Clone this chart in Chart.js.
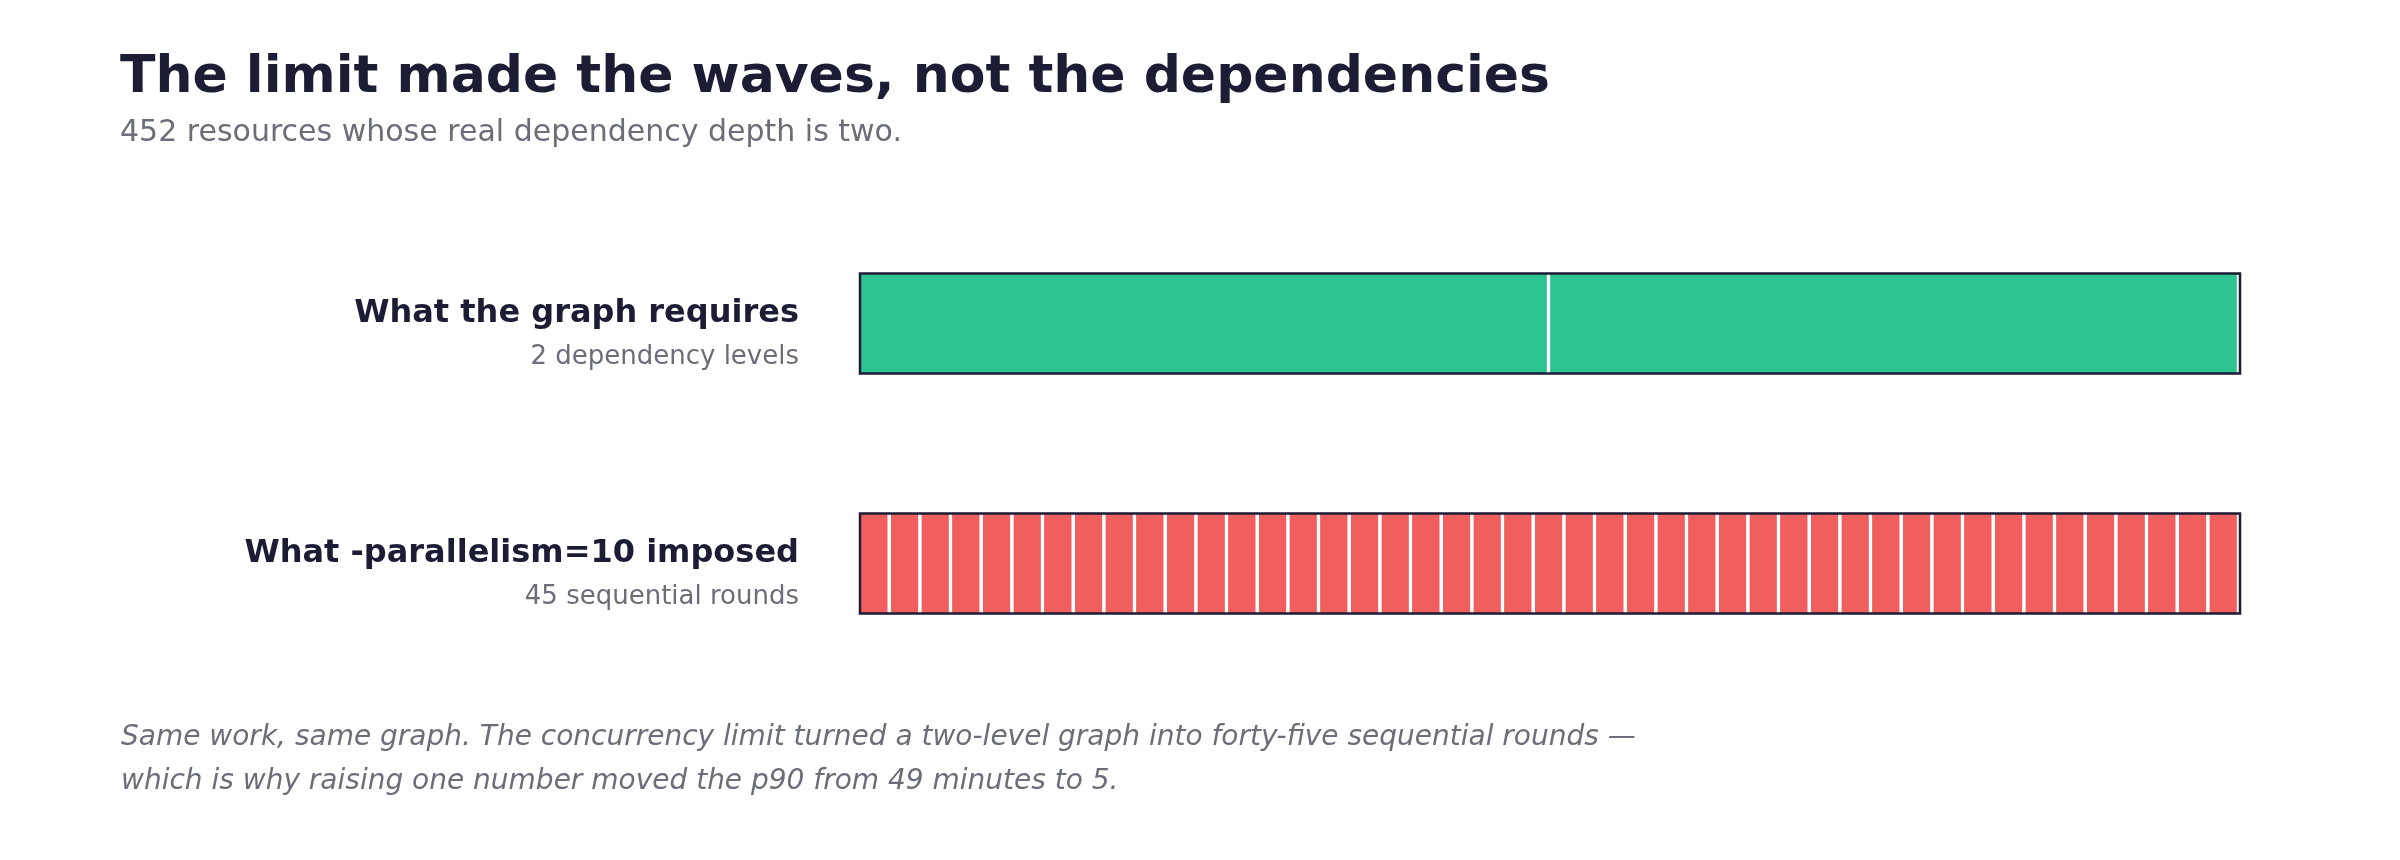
<!DOCTYPE html>
<html>
<head>
<meta charset="utf-8">
<title>The limit made the waves, not the dependencies</title>
<script src="https://cdn.jsdelivr.net/npm/chart.js@4.4.1/dist/chart.umd.min.js"></script>
<style>
    html, body {
        margin: 0;
        padding: 0;
        background: #ffffff;
    }
    body {
        width: 2400px;
        height: 860px;
        position: relative;
        overflow: hidden;
        font-family: "DejaVu Sans", sans-serif;
    }
    #chartWrap {
        position: absolute;
        left: 0;
        top: 0;
        width: 2400px;
        height: 860px;
    }
    .title {
        position: absolute;
        left: 120px;
        top: 48px;
        font-size: 52px;
        line-height: 52px;
        font-weight: bold;
        color: #1c1d35;
        white-space: nowrap;
    }
    .subtitle {
        position: absolute;
        left: 120px;
        top: 116px;
        font-size: 30px;
        line-height: 30px;
        color: #6b6e78;
        white-space: nowrap;
    }
    .note {
        position: absolute;
        left: 121px;
        top: 714px;
        font-size: 28px;
        line-height: 44px;
        font-style: italic;
        color: #6b6e78;
        white-space: nowrap;
    }
</style>
</head>
<body>
<div id="chartWrap"><canvas id="waveChart"></canvas></div>
<div class="title">The limit made the waves, not the dependencies</div>
<div class="subtitle">452 resources whose real dependency depth is two.</div>
<div class="note">Same work, same graph. The concurrency limit turned a two-level graph into forty-five sequential rounds —<br>which is why raising one number moved the p90 from 49 minutes to 5.</div>

<script>
// rows of the chart
const rowLabels = ['What the graph requires', 'What -parallelism=10 imposed'];
const rowNotes = ['2 dependency levels', '45 sequential rounds'];
const segmentCounts = [2, 45];
const rowColors = ['#2ec492', '#f05e5e'];

const maxSegments = Math.max(...segmentCounts);

// one dataset per segment slot; each row is split into equal parts of its own total
const datasets = [];
for (let i = 0; i < maxSegments; i++) {
    datasets.push({
        data: segmentCounts.map(count => (i < count ? 1 / count : null)),
        backgroundColor: rowColors,
        borderColor: '#ffffff',
        borderWidth: { top: 0, bottom: 0, left: 0, right: 3.5 },
        borderSkipped: false,
        barThickness: 100
    });
}

// dark outline round each whole row + the row labels on the left
const rowDecor = {
    id: 'rowDecor',
    afterDatasetsDraw(chart) {
        const ctx = chart.ctx;
        const x = chart.scales.x;
        const y = chart.scales.y;
        const left = x.getPixelForValue(0);
        const right = x.getPixelForValue(1);

        ctx.save();
        rowLabels.forEach((label, i) => {
            const yc = y.getPixelForValue(i);

            ctx.strokeStyle = '#1c1d35';
            ctx.lineWidth = 2.5;
            ctx.strokeRect(left, yc - 50, right - left, 100);

            ctx.textAlign = 'right';
            ctx.textBaseline = 'alphabetic';
            ctx.fillStyle = '#1c1d35';
            ctx.font = 'bold 32px "DejaVu Sans"';
            ctx.fillText(label, left - 61, yc - 2);

            ctx.fillStyle = '#6b6e78';
            ctx.font = '26px "DejaVu Sans"';
            ctx.fillText(rowNotes[i], left - 61, yc + 40);
        });
        ctx.restore();
    }
};

new Chart(document.getElementById('waveChart').getContext('2d'), {
    type: 'bar',
    data: {
        labels: rowLabels,
        datasets: datasets
    },
    options: {
        indexAxis: 'y',
        responsive: true,
        maintainAspectRatio: false,
        animation: false,
        layout: {
            padding: { left: 860, right: 160, top: 203.5, bottom: 176.5 }
        },
        scales: {
            x: {
                stacked: true,
                min: 0,
                max: 1,
                display: false
            },
            y: {
                stacked: true,
                display: false
            }
        },
        plugins: {
            legend: { display: false },
            tooltip: { enabled: false }
        }
    },
    plugins: [rowDecor]
});
</script>
</body>
</html>
